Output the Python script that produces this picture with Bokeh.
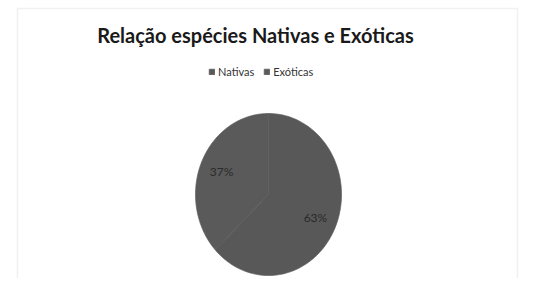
import numpy as np
from bokeh.plotting import figure
from bokeh.models import Range1d, Label, Legend, LegendItem, BoxAnnotation, ColumnDataSource
from bokeh.embed import file_html
from bokeh.resources import INLINE

# ---- data ----
categories = ["Nativas", "Exóticas"]
values = [63, 37]
labels = ["63%", "37%"]
colors = ["#585858", "#5a5a5a"]
title_text = "Relação espécies Nativas e Exóticas"

W, H = 526, 278
p = figure(width=W, height=H, output_backend="svg", toolbar_location=None,
           x_range=Range1d(0, W), y_range=Range1d(0, H), min_border=0,
           outline_line_color=None, background_fill_color="white",
           border_fill_color="white")
p.axis.visible = False
p.grid.visible = False

# chart frame
p.add_layout(BoxAnnotation(left=17, right=517, top=270, bottom=-10, fill_alpha=0,
                           line_color="#d0d0d0", line_width=1.5))

# pie (slightly elliptical, clockwise from 12 o'clock)
cx, cy, rx, ry = 268, 84, 73, 81
vals = np.array(values, dtype=float)
fr = vals / vals.sum()
ends = np.cumsum(fr) * 2 * np.pi
starts = ends - fr * 2 * np.pi
xs, ys = [], []
for a0, a1 in zip(starts, ends):
    t = np.linspace(a0, a1, 120)
    xs.append(list(np.concatenate([[cx], cx + rx * np.sin(t)])))
    ys.append(list(np.concatenate([[cy], cy + ry * np.cos(t)])))
src = ColumnDataSource(dict(xs=xs, ys=ys, color=colors, cat=categories))
r = p.patches("xs", "ys", source=src, fill_color="color", line_color="#5f5f5f",
              line_width=0.7)

# data labels
mids = (starts + ends) / 2
for lab, m in zip(labels, mids):
    p.add_layout(Label(x=cx + 0.7 * rx * np.sin(m), y=cy + 0.7 * ry * np.cos(m),
                       text=lab, text_align="center", text_baseline="middle",
                       text_font="Lato", text_font_size="12px", text_color="#2a2a2a"))

# title
p.add_layout(Label(x=255, y=244, text=title_text, text_align="center",
                   text_baseline="alphabetic", text_font="Lato",
                   text_font_style="bold", text_font_size="20px",
                   text_color="#1a1a1a"))

# legend
legend = Legend(items=[LegendItem(label=c, renderers=[r], index=i)
                       for i, c in enumerate(categories)],
                orientation="horizontal", location=(208, 200),
                border_line_color=None, background_fill_alpha=0,
                label_text_font="Lato", label_text_font_size="11px",
                label_text_color="#333333", glyph_width=7, glyph_height=7,
                label_standoff=3, spacing=9, padding=0, margin=0,
                label_height=12)
p.add_layout(legend, "center")

open("out.html", "w").write(file_html(p, INLINE))
